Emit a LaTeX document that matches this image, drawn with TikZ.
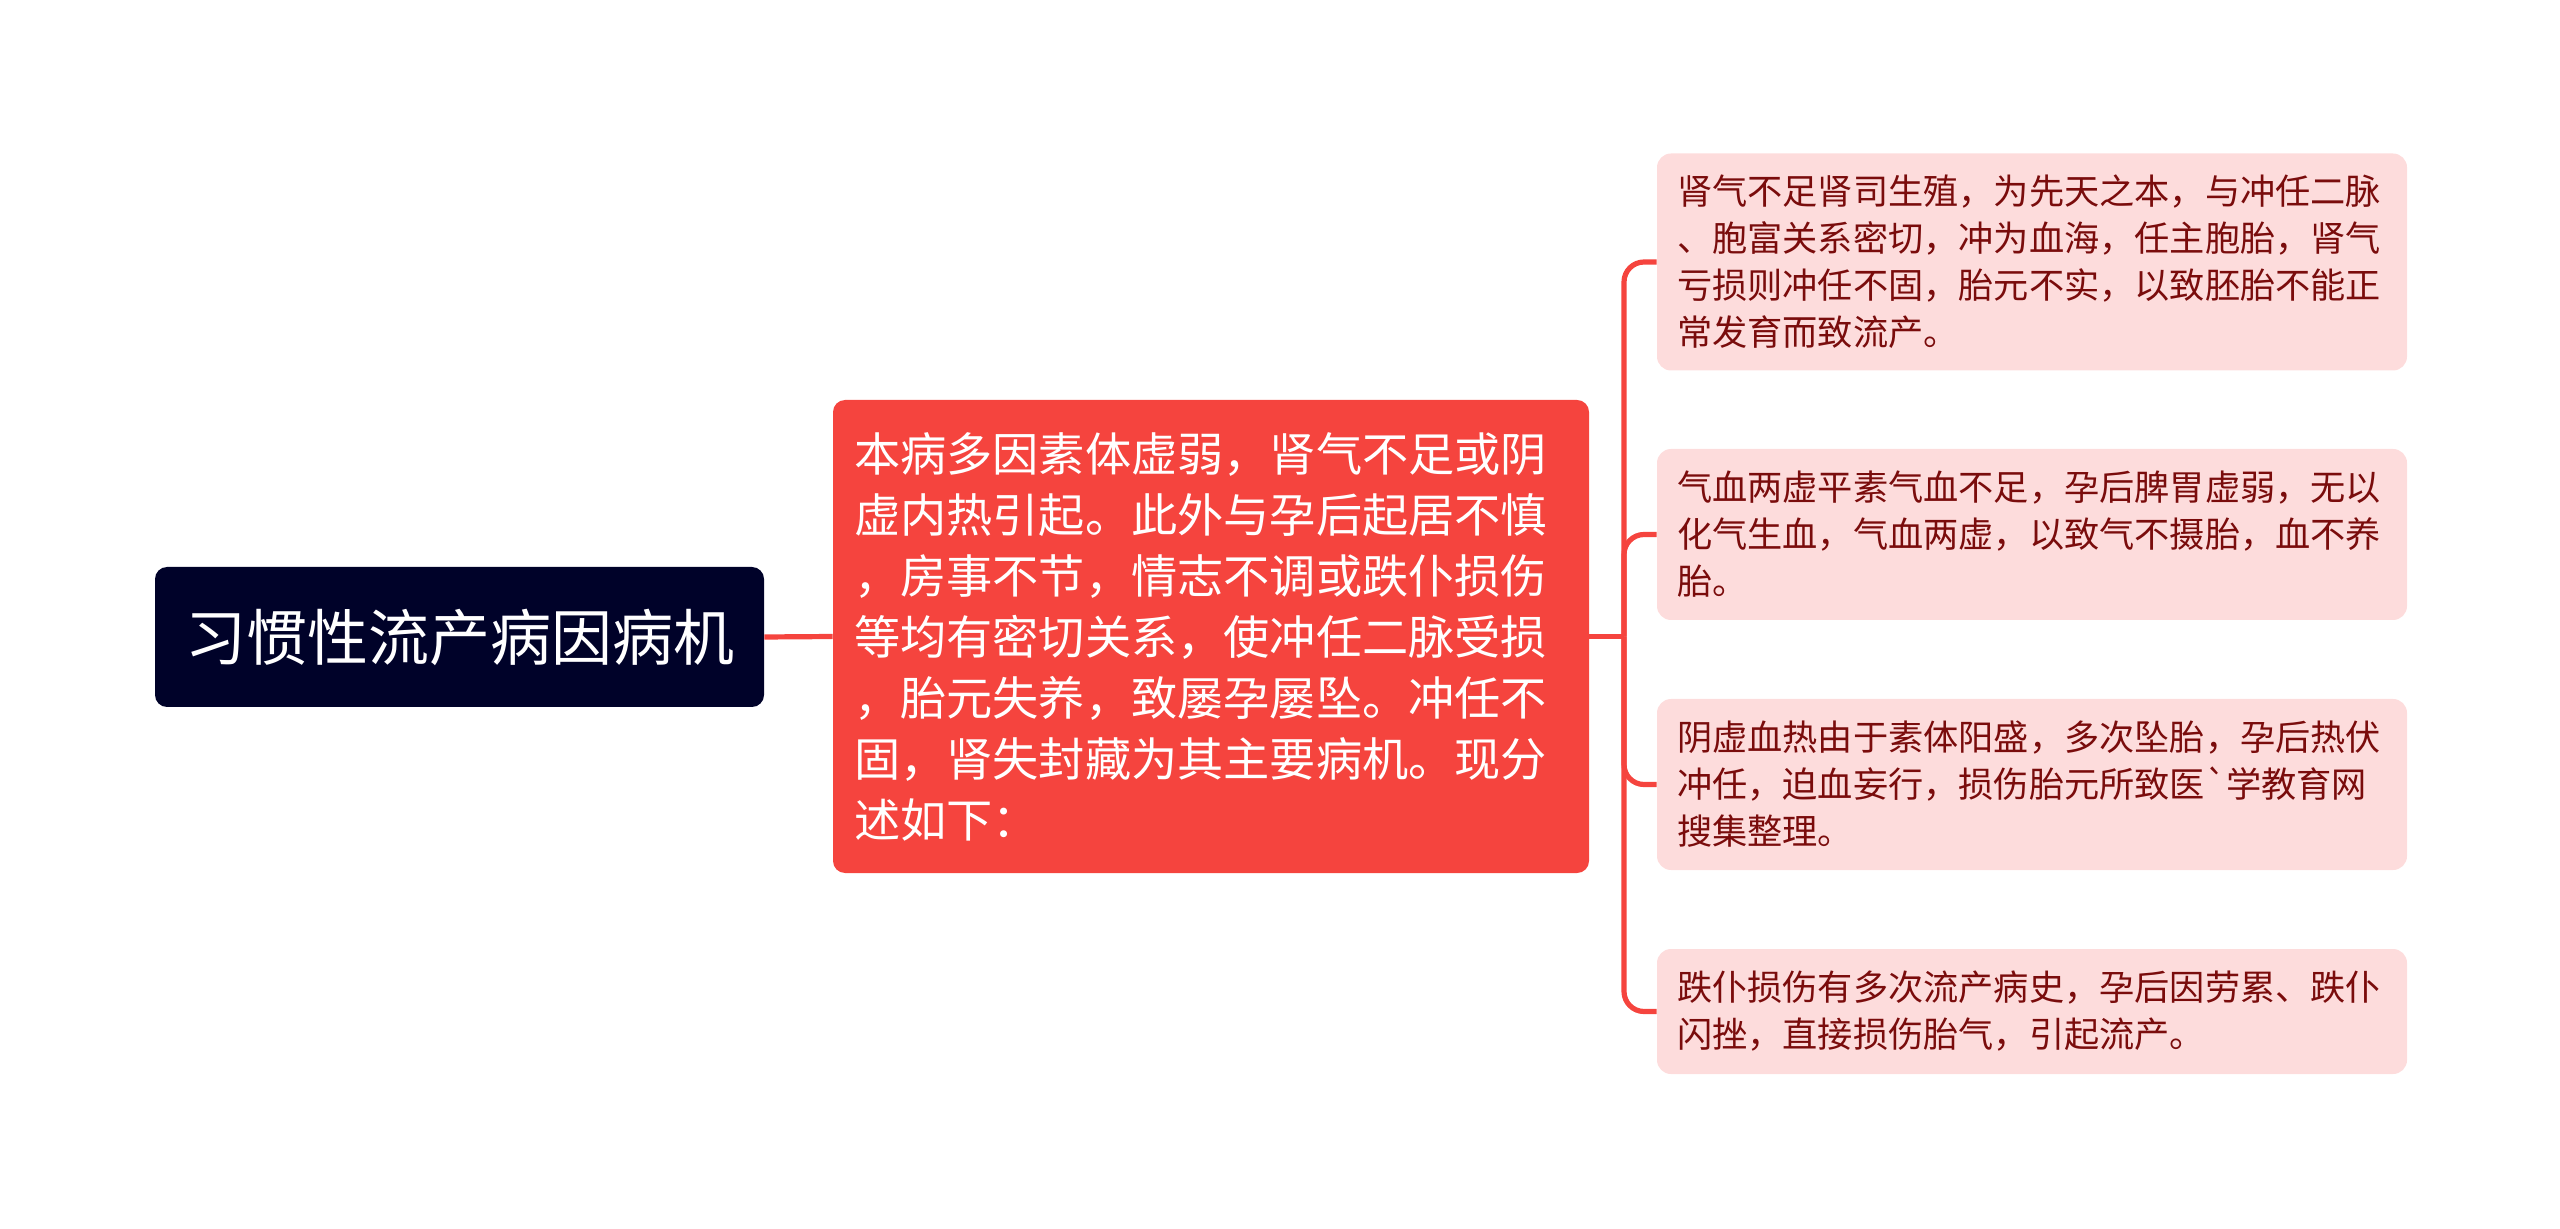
\documentclass[tikz,border=0pt]{standalone}
\usepackage{fontspec}
\newfontfamily\cjkfont{Noto Sans CJK SC}
\definecolor{rootfill}{HTML}{000229}
\definecolor{mainred}{HTML}{F5443E}
\definecolor{leaffill}{HTML}{FDDCDC}
\definecolor{leaftext}{HTML}{7A0C0C}

\tikzstyle{link} = [draw=mainred, line width=2.6pt]
\tikzstyle{branch} = [link, rounded corners=10pt]
\tikzstyle{rootbox} = [fill=rootfill, text=white, rounded corners=6pt, minimum width=304.5pt, minimum height=70pt, inner sep=0pt, font=\cjkfont\fontsize{30.5}{36}\selectfont]
\tikzstyle{mainbox} = [fill=mainred, text=white, rounded corners=6pt, text width=357pt, align=left, inner xsep=10.5pt, inner ysep=0pt, minimum height=236.5pt, font=\cjkfont\fontsize{23.1}{30.5}\selectfont]
\tikzstyle{leafbox} = [fill=leaffill, text=leaftext, rounded corners=7pt, text width=355pt, align=left, inner xsep=10pt, inner ysep=0pt, font=\cjkfont\fontsize{17.6}{23.5}\selectfont]

\begin{document}
\begin{tikzpicture}[x=0.5pt, y=-0.5pt]

    \useasboundingbox (0,0) rectangle (2560,1229);

\node[rootbox] (root) at (459.5,637) {习惯性流产病因病机};
\node[mainbox] (cause) at (1211,636.5) {本病多因素体虚弱，肾气不足或阴\\虚内热引起。此外与孕后起居不慎\\，房事不节，情志不调或跌仆损伤\\等均有密切关系，使冲任二脉受损\\，胎元失养，致屡孕屡坠。冲任不\\固，肾失封藏为其主要病机。现分\\述如下：};

\node[leafbox, minimum height=108.5pt] (kidney) at (2032,262) {肾气不足肾司生殖，为先天之本，与冲任二脉\\、胞富关系密切，冲为血海，任主胞胎，肾气\\亏损则冲任不固，胎元不实，以致胚胎不能正\\常发育而致流产。};
\node[leafbox, minimum height=85.5pt] (blood) at (2032,534.5) {气血两虚平素气血不足，孕后脾胃虚弱，无以\\化气生血，气血两虚，以致气不摄胎，血不养\\胎。};
\node[leafbox, minimum height=85.5pt] (heat) at (2032,784.5) {阴虚血热由于素体阳盛，多次坠胎，孕后热伏\\冲任，迫血妄行，损伤胎元所致医`学教育网\\搜集整理。};
\node[leafbox, minimum height=62.5pt] (injury) at (2032,1011.5) {跌仆损伤有多次流产病史，孕后因劳累、跌仆\\闪挫，直接损伤胎气，引起流产。};

\coordinate (trunk) at (1624,636.5);

    \draw[link] (root.east) -- (cause.west);
    \draw[link] (cause.east) -- (trunk);
    \draw[branch] (trunk) |- (kidney.west);
    \draw[branch] (trunk) |- (blood.west);
    \draw[branch] (trunk) |- (heat.west);
    \draw[branch] (trunk) |- (injury.west);

\end{tikzpicture}
\end{document}
